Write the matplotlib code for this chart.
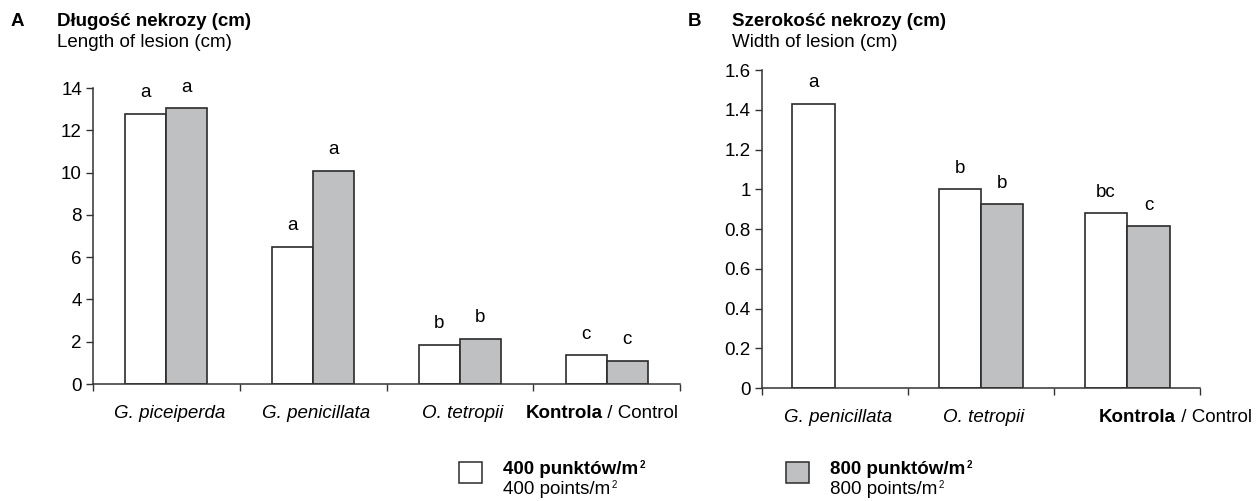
import matplotlib.pyplot as plt
from matplotlib.patches import Rectangle

plt.rcParams['font.family'] = ['Liberation Sans', 'DejaVu Sans']

# panel A - length of lesion
cats_a = ["G. piceiperda", "G. penicillata", "O. tetropii", "Kontrola"]
len_400 = [12.8, 6.5, 1.85, 1.35]
len_800 = [13.05, 10.1, 2.15, 1.1]
let_a_400 = ["a", "a", "b", "c"]
let_a_800 = ["a", "a", "b", "c"]

# panel B - width of lesion (no 800 bar for G. penicillata)
cats_b = ["G. penicillata", "O. tetropii", "Kontrola"]
wid_400 = [1.43, 1.0, 0.88]
wid_800 = [None, 0.925, 0.815]
let_b_400 = ["a", "b", "bc"]
let_b_800 = [None, "b", "c"]

# legend entries
leg_pl = ["400 punktów/m", "800 punktów/m"]
leg_en = ["400 points/m", "800 points/m"]

GRAY = "#bfc0c2"
EDGE = "#2b2b2b"
FS = 13.5
W, H = 1257, 501

fig = plt.figure(figsize=(12.57, 5.01), dpi=100)


def draw_panel(ax, cats, v400, v800, l400, l800, ymax, step, bw, fmt, ctrl_shift):
    n = len(cats)
    for i in range(n):
        ax.bar(i - bw / 2, v400[i], bw, color="white", edgecolor=EDGE, linewidth=1.2)
        ax.annotate(l400[i], (i - bw / 2, v400[i]), xytext=(0, 9), textcoords="offset points",
                    ha="center", va="bottom", fontsize=FS)
        if v800[i] is not None:
            ax.bar(i + bw / 2, v800[i], bw, color=GRAY, edgecolor=EDGE, linewidth=1.2)
            ax.annotate(l800[i], (i + bw / 2, v800[i]), xytext=(0, 9), textcoords="offset points",
                        ha="center", va="bottom", fontsize=FS)
    ax.set_xlim(-0.5, n - 0.5)
    ax.set_ylim(0, ymax)
    yt = [k * step for k in range(int(round(ymax / step)) + 1)]
    ax.set_yticks(yt)
    ax.set_yticklabels([fmt(v) for v in yt], fontsize=FS)
    ax.set_xticks([i - 0.5 for i in range(n + 1)])
    ax.set_xticklabels([])
    ax.spines["top"].set_visible(False)
    ax.spines["right"].set_visible(False)
    for s in ["left", "bottom"]:
        ax.spines[s].set_color("#333333")
        ax.spines[s].set_linewidth(1.1)
    ax.tick_params(axis="both", direction="out", length=5, width=1.0, color="#333333")
    ax.tick_params(axis="y", pad=3)
    for i, c in enumerate(cats):
        if c == "Kontrola":
            ax.annotate("Kontrola", (i, 0), xytext=(ctrl_shift, -21), textcoords="offset points",
                        ha="right", va="center", fontsize=FS, fontweight="bold",
                        annotation_clip=False)
            ax.annotate(" / Control", (i, 0), xytext=(ctrl_shift, -21), textcoords="offset points",
                        ha="left", va="center", fontsize=FS, annotation_clip=False)
        else:
            ax.annotate(c, (i, 0), xytext=(2, -21), textcoords="offset points",
                        ha="center", va="center", fontsize=FS, style="italic",
                        annotation_clip=False)


ax_a = fig.add_axes([0.074, 0.2335, 0.467, 0.5905])
draw_panel(ax_a, cats_a, len_400, len_800, let_a_400, let_a_800, 14, 2, 0.28,
           lambda v: "%d" % v, -3)

ax_b = fig.add_axes([0.606, 0.2255, 0.349, 0.6345])
draw_panel(ax_b, cats_b, wid_400, wid_800, let_b_400, let_b_800, 1.6, 0.2, 0.29,
           lambda v: "0" if v == 0 else ("1" if abs(v - 1) < 1e-9 else "%.1f" % v), 35)

# panel titles
fig.text(0.008, 0.958, "A", fontsize=FS, fontweight="bold", va="center")
fig.text(0.0453, 0.958, "Długość nekrozy (cm)", fontsize=FS, fontweight="bold", va="center")
fig.text(0.0453, 0.916, "Length of lesion (cm)", fontsize=FS, va="center")
fig.text(0.5475, 0.958, "B", fontsize=FS, fontweight="bold", va="center")
fig.text(0.5823, 0.958, "Szerokość nekrozy (cm)", fontsize=FS, fontweight="bold", va="center")
fig.text(0.5823, 0.916, "Width of lesion (cm)", fontsize=FS, va="center")

# legend (boxes + two-line labels)
labels = []
for k, (bx, tx, fc) in enumerate([(459, 503, "white"), (786, 830, GRAY)]):
    fig.patches.append(Rectangle((bx / W, 1 - 483 / H), 23 / W, 21 / H,
                                 transform=fig.transFigure, facecolor=fc, edgecolor=EDGE, lw=1.1))
    t1 = fig.text(tx / W, 1 - 469 / H, leg_pl[k], fontsize=FS, fontweight="bold", va="center")
    t2 = fig.text(tx / W, 1 - 490 / H, leg_en[k], fontsize=FS, va="center")
    labels += [(t1, "bold"), (t2, "normal")]

# small superscript 2 after each legend label
fig.canvas.draw()
for t, wt in labels:
    bb = t.get_window_extent()
    fig.text((bb.x1 + 1) / W, (bb.y1 + 1) / H, "2", fontsize=7, fontweight=wt,
             ha="left", va="top")

fig.savefig("out.png", dpi=100)
